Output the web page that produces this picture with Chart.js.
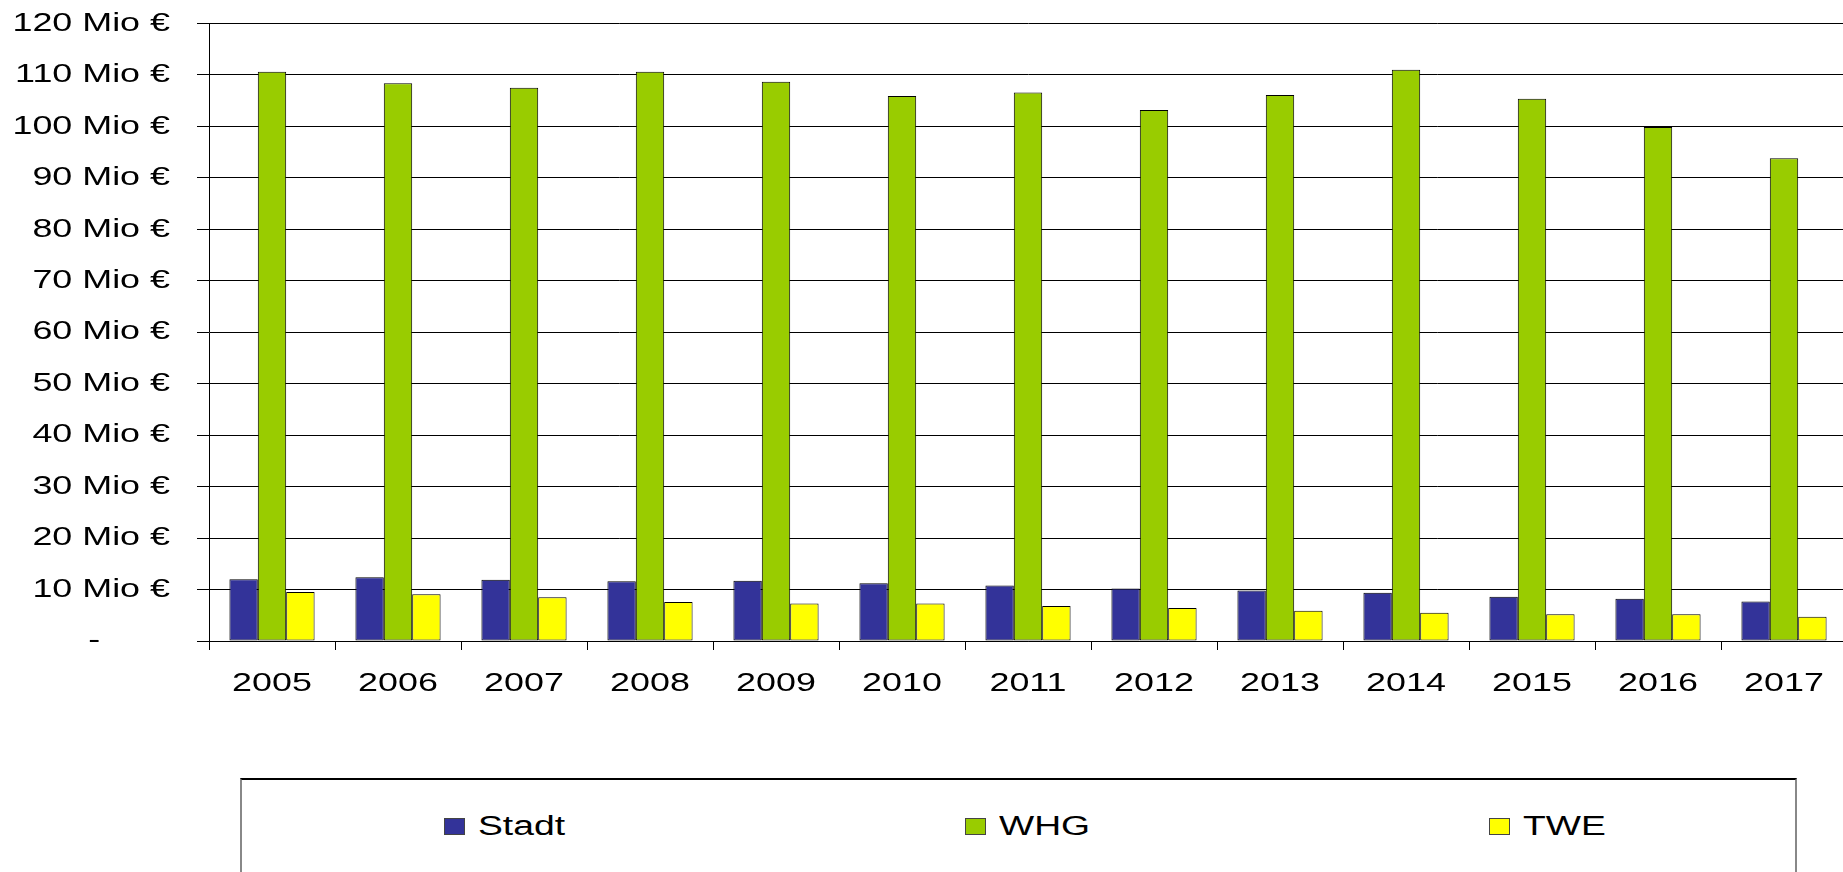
<!DOCTYPE html>
<html>
<head>
<meta charset="utf-8">
<script src="https://cdn.jsdelivr.net/npm/chart.js@4/dist/chart.umd.min.js"></script>
<style>
  html, body { margin: 0; padding: 0; background: #fff; overflow: hidden; width: 1843px; height: 872px; }
  #chart { position: absolute; left: 0; top: 0; }
  #legend {
    position: absolute; left: 240px; top: 778px; width: 1557px; height: 200px;
    border: 2px solid #888; border-top-color: #000;
    display: flex; justify-content: space-between; align-items: flex-start;
    padding: 30px 212px 0 202px; box-sizing: border-box;
    font-family: "Liberation Sans", Arial, sans-serif; font-size: 27px; color: #000;
  }
  .item { display: flex; align-items: center; height: 32px; }
  .swatch { width: 19px; height: 15px; border: 1px solid #444; margin-right: 13px; }
  .label { display: inline-block; transform: scaleX(1.38); transform-origin: left center; }
</style>
</head>
<body>
<canvas id="chart" width="1847" height="700"></canvas>
<div id="legend"></div>
<script>
/* data */
const years = ["2005", "2006", "2007", "2008", "2009", "2010", "2011", "2012", "2013", "2014", "2015", "2016", "2017"];
const stadt = [12.0, 12.4, 11.9, 11.6, 11.7, 11.2, 10.8, 10.2, 9.8, 9.4, 8.6, 8.2, 7.7];
const whg = [110.6, 108.4, 107.5, 110.6, 108.7, 105.9, 106.6, 103.2, 106.1, 111.0, 105.4, 99.9, 93.8];
const twe = [9.5, 9.1, 8.5, 7.6, 7.3, 7.3, 6.8, 6.4, 5.9, 5.5, 5.2, 5.2, 4.7];
const yTickLabels = ["-       ", "10 Mio €", "20 Mio €", "30 Mio €", "40 Mio €", "50 Mio €", "60 Mio €",
    "70 Mio €", "80 Mio €", "90 Mio €", "100 Mio €", "110 Mio €", "120 Mio €"];

const FONT = { family: '"Liberation Sans", Arial, sans-serif', size: 26 };
const STRETCH = 1.38;

// the reference text is drawn stretched wide; widen canvas text around its anchor
const wideText = {
    id: "wideText",
    beforeInit(c) {
        const ctx = c.ctx;
        const fill = ctx.fillText.bind(ctx);
        ctx.fillText = function (text, x, y, maxWidth) {
            ctx.save();
            ctx.translate(x, y);
            ctx.scale(STRETCH, 1);
            fill(text, 0, 0);
            ctx.restore();
        };
    }
};

function bar(label, data, color) {
    return {
        label: label,
        data: data,
        backgroundColor: color,
        borderColor: "#000",
        borderWidth: 1,
        borderSkipped: false,
        categoryPercentage: 0.676,
        barPercentage: 1.0
    };
}

const chart = new Chart(document.getElementById("chart"), {
    type: "bar",
    data: {
        labels: years,
        datasets: [
            bar("Stadt", stadt, "#333399"),
            bar("WHG", whg, "#99CC00"),
            bar("TWE", twe, "#FFFF00")
        ]
    },
    options: {
        responsive: false,
        animation: false,
        layout: { padding: { top: 23.5, right: 0, bottom: 0, left: 0 } },
        plugins: { legend: { display: false }, tooltip: { enabled: false } },
        scales: {
            x: {
                grid: { display: true, drawOnChartArea: false, drawTicks: true, tickLength: 9, color: "#000", offset: true },
                border: { display: true, color: "#000", width: 1 },
                ticks: { color: "#000", font: FONT, padding: 18, maxRotation: 0, autoSkip: false },
                afterFit(s) { s.height = 59; }
            },
            y: {
                min: 0,
                max: 120,
                ticks: {
                    stepSize: 10,
                    color: "#000",
                    font: FONT,
                    padding: 27,
                    callback: v => yTickLabels[Math.round(v / 10)]
                },
                grid: { color: "#000", lineWidth: 1, drawTicks: true, tickLength: 12 },
                border: { display: true, color: "#000", width: 1 },
                afterFit(s) {
                    s.width = 209;
                    // tick padding would otherwise push the plot top down
                    s.paddingTop = 0;
                    s.paddingBottom = 0;
                }
            }
        }
    },
    plugins: [wideText]
});

/* html legend built from the datasets */
const legend = document.getElementById("legend");
chart.data.datasets.forEach(ds => {
    const item = document.createElement("div");
    item.className = "item";
    const sw = document.createElement("span");
    sw.className = "swatch";
    sw.style.background = ds.backgroundColor;
    const txt = document.createElement("span");
    txt.className = "label";
    txt.textContent = ds.label;
    item.appendChild(sw);
    item.appendChild(txt);
    legend.appendChild(item);
});
</script>
</body>
</html>
